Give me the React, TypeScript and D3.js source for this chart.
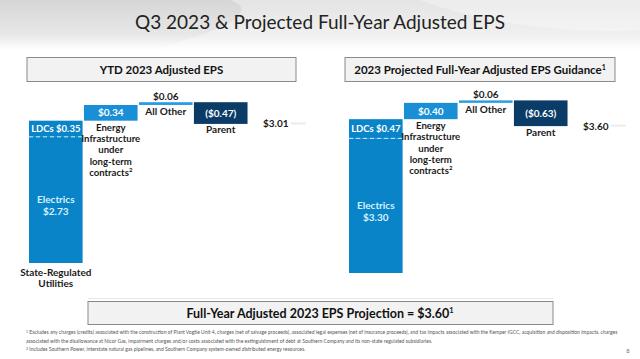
import React from "react";
import * as d3 from "d3";

const title = "Q3 2023 & Projected Full-Year Adjusted EPS";
const ytdHeader = "YTD 2023 Adjusted EPS";
const fyHeader = "2023 Projected Full-Year Adjusted EPS Guidance";
const bands = ["sru", "energy", "other", "parent", "total"];
const segmentNames = ["Electrics", "LDCs", "Energy", "All Other", "Parent"];
const ytdValues = [2.73, 0.35, 0.34, 0.06, -0.47];
const ytdTotal = 3.01;
const fyValues = [3.3, 0.47, 0.4, 0.06, -0.63];
const fyTotal = 3.6;
const energyLines = ["Energy", "Infrastructure", "under", "long-term", "contracts"];
const groupLines = ["State-Regulated", "Utilities"];
const footnotes = [
  "Excludes any charges (credits) associated with the construction of Plant Vogtle Unit 4, charges (net of salvage proceeds), associated legal expenses (net of insurance proceeds), and tax impacts associated with the Kemper IGCC, acquisition and disposition impacts, charges",
  "associated with the disallowance at Nicor Gas, impairment charges and/or costs associated with the extinguishment of debt at Southern Company and its non-state regulated subsidiaries.",
  "Includes Southern Power, interstate natural gas pipelines, and Southern Company system-owned distributed energy resources.",
];

const FONT = "Lato, 'Open Sans', sans-serif";
const fmt = (v: number) => (v < 0 ? `($${Math.abs(v).toFixed(2)})` : `$${v.toFixed(2)}`);

const C_MAIN = "#0a84c8";
const C_ENERGY = "#1a8fd6";
const C_OTHER = "#2a9ce2";
const C_PARENT = "#0b3c68";

function Panel({ values, total, xr, yBottom, yTop, showGroup }: any) {
  const x = d3.scaleBand().domain(bands).range(xr).paddingInner(0.025);
  const ends = d3.cumsum(values) as Float64Array;
  const starts = [0, ...Array.from(ends).slice(0, -1)];
  const y = d3.scaleLinear().domain([0, d3.max(ends) as number]).range([yBottom, yTop]);
  const bw = x.bandwidth();
  const cx = (b: string) => (x(b) as number) + bw / 2;
  const segBand = ["sru", "sru", "energy", "other", "parent"];
  const colors = [C_MAIN, C_MAIN, C_ENERGY, C_OTHER, C_PARENT];
  const rects = values.map((v: number, i: number) => {
    const a = y(starts[i]);
    const b = y(ends[i]);
    return { i, x: x(segBand[i]) as number, y: Math.min(a, b), h: Math.abs(a - b), c: colors[i] };
  });
  const t = { fontFamily: FONT, fontWeight: 700, fontSize: 10, textAnchor: "middle" as const };
  const eTop = y(ends[2]);
  const eBot = y(ends[1]);
  const oTop = y(ends[3]);
  const oBot = y(ends[2]);
  const pTop = y(ends[3]);
  const pBot = y(ends[4]);
  const elecMid = (y(0) + y(ends[0])) / 2 + 5;
  const ldcMid = (y(ends[0]) + y(ends[1])) / 2;
  return (
    <g>
      {rects.map((r: any) => (
        <rect key={r.i} x={r.x} y={r.y} width={bw} height={Math.max(r.h, 1)} fill={r.c} />
      ))}
      <line x1={x("sru")} x2={(x("sru") as number) + bw} y1={y(ends[0])} y2={y(ends[0])} stroke="#cfeaff" strokeWidth={1} strokeDasharray="4,3" />
      <text {...t} x={cx("sru")} y={ldcMid + 3.5} fill="#ffffff" fontSize={9.5}>{`${segmentNames[1]} ${fmt(values[1])}`}</text>
      <text {...t} x={cx("sru")} y={elecMid - 2} fill="#d6f1ff">{segmentNames[0]}</text>
      <text {...t} x={cx("sru")} y={elecMid + 10} fill="#d6f1ff">{fmt(values[0])}</text>
      <text {...t} x={cx("energy")} y={(eTop + eBot) / 2 + 3.5} fill="#ffffff">{fmt(values[2])}</text>
      {energyLines.map((l, i) => (
        <text key={l} {...t} x={cx("energy")} y={eBot + 10 + i * 11.3} fill="#1a1a1a" fontSize={9.6}>
          {l}
          {i === energyLines.length - 1 ? <tspan fontSize={6} dy={-4}>2</tspan> : null}
        </text>
      ))}
      <text {...t} x={cx("other")} y={oTop - 2.5} fill="#1a1a1a">{fmt(values[3])}</text>
      <text {...t} x={cx("other")} y={oBot + 10.5} fill="#1a1a1a">{segmentNames[3]}</text>
      <text {...t} x={cx("parent")} y={(pTop + pBot) / 2 + 3.5} fill="#ffffff">{fmt(values[4])}</text>
      <text {...t} x={cx("parent")} y={pBot + 9.5} fill="#1a1a1a">{segmentNames[4]}</text>
      <text {...t} x={cx("total")} y={y(total) + 3.5} fill="#1a1a1a">{fmt(total)}</text>
      <line x1={cx("total") + 15} x2={cx("total") + 30} y1={y(total) - 0.5} y2={y(total) - 0.5} stroke="#ececec" strokeWidth={2} />
      {showGroup
        ? groupLines.map((l, i) => (
            <text key={l} {...t} x={cx("sru")} y={yBottom + 12.5 + i * 11.5} fill="#1a1a1a">{l}</text>
          ))
        : null}
    </g>
  );
}

export default function App() {
  return (
    <svg width={640} height={359} style={{ position: "absolute", left: 0, top: 0 }}>
      <defs>
        <linearGradient id="hdr" x1="0" y1="0" x2="0" y2="1">
          <stop offset="0" stopColor="#d6d6d6" />
          <stop offset="0.7" stopColor="#e8e8e8" />
          <stop offset="1" stopColor="#ffffff" />
        </linearGradient>
      </defs>
      <rect x={0} y={0} width={640} height={359} fill="#ffffff" />
      <rect x={0} y={0} width={640} height={50} fill="url(#hdr)" />
      <path d="M150,50 C230,30 260,10 230,0 L640,0 L640,50 Z" fill="#ffffff" opacity={0.35} />
      <path d="M420,0 C470,20 560,35 640,30 L640,0 Z" fill="#ffffff" opacity={0.3} />
      <text x={320} y={29} textAnchor="middle" fontFamily={FONT} fontSize={19} fill="#222">{title}</text>

      <rect x={27} y={57.5} width={269} height={24} fill="#f2f2f2" stroke="#8a8a8a" strokeWidth={1} />
      <text x={161.5} y={73.5} textAnchor="middle" fontFamily={FONT} fontWeight={700} fontSize={11.5} fill="#111">{ytdHeader}</text>
      <rect x={345} y={57.5} width={270} height={24} fill="#f2f2f2" stroke="#8a8a8a" strokeWidth={1} />
      <text x={480} y={73.5} textAnchor="middle" fontFamily={FONT} fontWeight={700} fontSize={11.5} fill="#111">
        {fyHeader}
        <tspan fontSize={7} dy={-4}>1</tspan>
      </text>

      <Panel values={ytdValues} total={ytdTotal} xr={[29, 302.5]} yBottom={263} yTop={102.2} showGroup={true} />
      <Panel values={fyValues} total={fyTotal} xr={[349, 622.5]} yBottom={273} yTop={100.4} showGroup={false} />

      <line x1={88} x2={553} y1={298.5} y2={298.5} stroke="#e6e6e6" strokeWidth={1} />
      <rect x={88} y={301.5} width={465} height={23} fill="#f2f2f2" stroke="#8a8a8a" strokeWidth={1} />
      <text x={320} y={317.5} textAnchor="middle" fontFamily={FONT} fontWeight={700} fontSize={12.5} fill="#111">
        {`Full-Year Adjusted 2023 EPS Projection = ${fmt(fyTotal)}`}
        <tspan fontSize={7.5} dy={-5}>1</tspan>
      </text>

      {footnotes.map((f, i) => (
        <text key={i} x={26} y={334 + i * 8.5} fontFamily={FONT} fontSize={5} fill="#555">
          {i !== 1 ? <tspan fontSize={3.6} dy={-1.5}>{i === 0 ? "1" : "2"}</tspan> : null}
          <tspan dy={i !== 1 ? 1.5 : 0}>{(i !== 1 ? " " : "") + f}</tspan>
        </text>
      ))}
      <text x={628} y={353} textAnchor="middle" fontFamily={FONT} fontSize={6} fill="#777">8</text>
    </svg>
  );
}
